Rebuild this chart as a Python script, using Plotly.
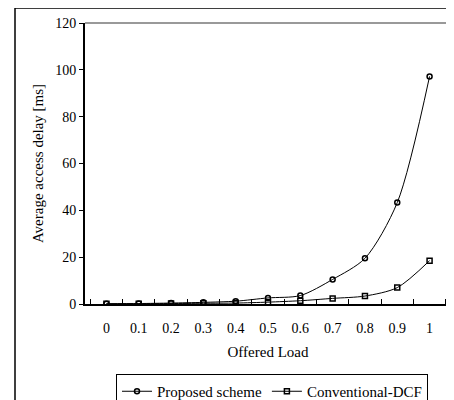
import plotly.graph_objects as go

loads = ["0", "0.1", "0.2", "0.3", "0.4", "0.5", "0.6", "0.7", "0.8", "0.9", "1"]
proposed = [0.1, 0.2, 0.4, 0.7, 1.2, 2.6, 3.6, 10.5, 19.5, 43.3, 97.2]
dcf = [0.1, 0.15, 0.2, 0.3, 0.4, 0.8, 1.4, 2.4, 3.4, 7.0, 18.5]

FONT = "'Times New Roman', 'Liberation Serif', 'DejaVu Serif', serif"

fig = go.Figure()
fig.add_trace(go.Scatter(
    x=loads, y=proposed, name="Proposed scheme", mode="lines+markers",
    line=dict(color="black", width=1, shape="spline", smoothing=0.8),
    marker=dict(symbol="circle-open", size=5, color="black", line=dict(width=1.5)),
))
fig.add_trace(go.Scatter(
    x=loads, y=dcf, name="Conventional-DCF", mode="lines+markers",
    line=dict(color="black", width=1, shape="spline", smoothing=0.8),
    marker=dict(symbol="square-open", size=5, color="black", line=dict(width=1.5)),
))

OFF = 8  # page body margin
W, H = 454 - OFF, 400 - OFF
L, T = 85 - OFF, 23 - OFF
R = W - (451 - OFF)
B = H - (304 - OFF)
pw, ph = W - L - R, H - T - B

def px(x):
    return (x - OFF - L) / pw

def py(y):
    return (H - B - (y - OFF)) / ph

shapes = [
    dict(type="rect", xref="paper", yref="paper", x0=px(15), x1=px(470), y0=py(420), y1=py(8),
         line=dict(color="black", width=1.5), layer="below"),
    dict(type="line", xref="paper", yref="paper", x0=0, x1=1, y0=1, y1=1,
         line=dict(color="#999999", width=2)),
    dict(type="line", xref="paper", yref="paper", x0=px(450), x1=px(450), y0=0, y1=1,
         line=dict(color="#999999", width=2)),
]

fig.update_layout(
    width=W, height=H,
    margin=dict(l=L, r=R, t=T, b=B, autoexpand=False),
    paper_bgcolor="white", plot_bgcolor="white",
    font=dict(family=FONT, size=14, color="black"),
    showlegend=True,
    legend=dict(orientation="h", x=px(272), xanchor="center", y=py(374), yanchor="top",
                bordercolor="black", borderwidth=1, font=dict(family=FONT, size=15),
                itemwidth=30, tracegroupgap=0),
    shapes=shapes,
    xaxis=dict(
        type="category", showline=True, linecolor="black", linewidth=2,
        ticks="inside", tickson="boundaries", ticklen=5, tickcolor="black", tickwidth=1,
        showgrid=False, zeroline=False, ticklabelstandoff=10, automargin=False,
        tickfont=dict(family=FONT, size=14),
        title=dict(text="Offered Load", standoff=12, font=dict(family=FONT, size=15)),
    ),
    yaxis=dict(
        range=[0, 120], dtick=20, showline=True, linecolor="black", linewidth=2,
        ticks="outside", ticklen=4, tickcolor="black", tickwidth=1,
        showgrid=False, zeroline=False, automargin=False,
        tickfont=dict(family=FONT, size=14),
        title=dict(text="Average access delay [ms]", standoff=8, font=dict(family=FONT, size=15)),
    ),
)

fig.write_html("out.html")
